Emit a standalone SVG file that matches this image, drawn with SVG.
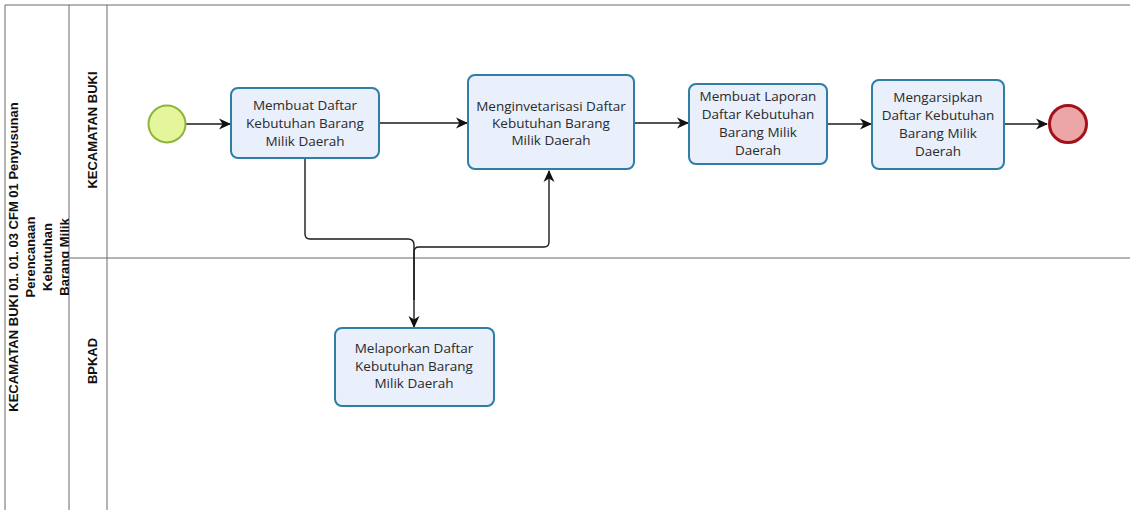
<svg xmlns="http://www.w3.org/2000/svg" width="1130" height="510" viewBox="0 0 1130 510">
<style>
.pool{fill:none;stroke:#6b6b6b;stroke-width:1}
.task{fill:#e9effb;stroke:#2e7ea6;stroke-width:2}
.tt{font-family:"Open Sans","Liberation Sans",sans-serif;font-size:13.5px;fill:#2a2a2a;text-anchor:middle}
.lbl{font-family:"Liberation Sans",Arial,sans-serif;font-weight:bold;fill:#111;text-anchor:middle}
.flow{fill:none;stroke:#1a1a1a;stroke-width:1.4}
</style>
<defs>
<marker id="arr" viewBox="0 0 12 12" refX="11" refY="6" markerWidth="12" markerHeight="12" markerUnits="userSpaceOnUse" orient="auto">
<path d="M0,0.5 L12,6 L0,11.5 L3.5,6 z" fill="#111"/>
</marker>
<clipPath id="poolclip"><rect x="5" y="5" width="64" height="505"/></clipPath>
</defs>
<rect width="1130" height="510" fill="#ffffff"/>
<g id="pool">
<path class="pool" d="M5,510 V5 H1130 M69,5 V510 M107,5 V510 M69,258 H1130"/>
<g clip-path="url(#poolclip)" class="lbl" font-size="13">
<text transform="translate(17.5,257) rotate(-90)">KECAMATAN BUKI 01. 01. 03 CFM 01 Penyusunan</text>
<text transform="translate(34.5,257) rotate(-90)">Perencanaan</text>
<text transform="translate(51.5,257) rotate(-90)">Kebutuhan</text>
<text transform="translate(68.5,257) rotate(-90)">Barang Milik</text>
</g>
<text class="lbl" font-size="13" transform="translate(96.5,130) rotate(-90)">KECAMATAN BUKI</text>
<text class="lbl" font-size="13" transform="translate(96.5,361) rotate(-90)">BPKAD</text>
</g>
<g id="connectors">
<path class="flow" d="M186,124 H230" marker-end="url(#arr)"/>
<path class="flow" d="M379,123 H467" marker-end="url(#arr)"/>
<path class="flow" d="M634,123 H688" marker-end="url(#arr)"/>
<path class="flow" d="M827,124 H871" marker-end="url(#arr)"/>
<path class="flow" d="M1004,124 H1047" marker-end="url(#arr)"/>
<path class="flow" d="M305,159 V234 Q305,239 310,239 H408 Q414,239 414,245 V327" marker-end="url(#arr)"/>
<path class="flow" d="M414,300 V252 Q414,247 419,247 H544 Q549,247 549,242 V171" marker-end="url(#arr)"/>
</g>
<g id="start">
<circle cx="167" cy="124" r="18.5" fill="#e5f59c" stroke="#8db53a" stroke-width="2"/>
</g>
<g id="task1">
<rect class="task" x="231" y="88" width="148" height="70" rx="7"/>
<text class="tt"><tspan x="305" y="110">Membuat Daftar</tspan><tspan x="305" y="128">Kebutuhan Barang</tspan><tspan x="305" y="146">Milik Daerah</tspan></text>
</g>
<g id="task2">
<rect class="task" x="468" y="75" width="166" height="94" rx="7"/>
<text class="tt"><tspan x="551" y="111">Menginvetarisasi Daftar</tspan><tspan x="551" y="128">Kebutuhan Barang</tspan><tspan x="551" y="145">Milik Daerah</tspan></text>
</g>
<g id="task3">
<rect class="task" x="689" y="84" width="138" height="80" rx="7"/>
<text class="tt"><tspan x="758" y="101">Membuat Laporan</tspan><tspan x="758" y="119">Daftar Kebutuhan</tspan><tspan x="758" y="137">Barang Milik</tspan><tspan x="758" y="155">Daerah</tspan></text>
</g>
<g id="task4">
<rect class="task" x="872" y="80" width="132" height="89" rx="7"/>
<text class="tt"><tspan x="938" y="102">Mengarsipkan</tspan><tspan x="938" y="120">Daftar Kebutuhan</tspan><tspan x="938" y="138">Barang Milik</tspan><tspan x="938" y="156">Daerah</tspan></text>
</g>
<g id="task5">
<rect class="task" x="335" y="328" width="159" height="78" rx="7"/>
<text class="tt"><tspan x="414" y="353">Melaporkan Daftar</tspan><tspan x="414" y="371">Kebutuhan Barang</tspan><tspan x="414" y="388">Milik Daerah</tspan></text>
</g>
<g id="end">
<circle cx="1068" cy="124" r="18.5" fill="#eda6a8" stroke="#a3121a" stroke-width="3"/>
</g>
</svg>
